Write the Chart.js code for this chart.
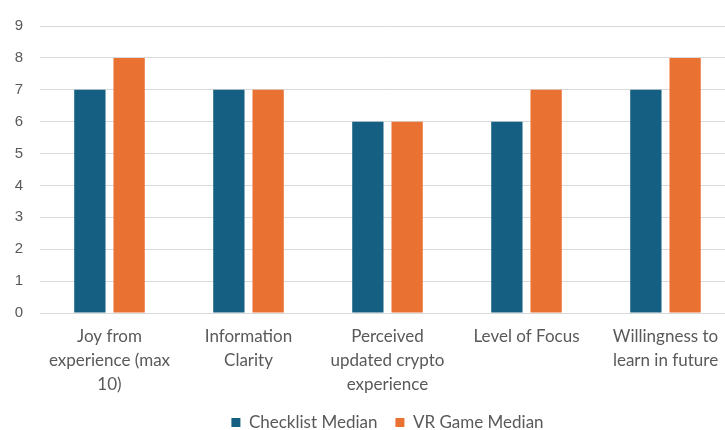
<!DOCTYPE html>
<html><head><meta charset="utf-8">
<script src="https://cdn.jsdelivr.net/npm/chart.js"></script>
<style>html,body{margin:0;padding:0;overflow:hidden;background:#fff}
#wrap{position:relative;width:735px;height:430px}</style></head>
<body><div id="wrap"><canvas id="c" width="735" height="430"></canvas></div>
<script>
const categories = [
  ["Joy from", "experience (max", "10)"],
  ["Information", "Clarity"],
  ["Perceived", "updated crypto", "experience"],
  ["Level of Focus"],
  ["Willingness to", "learn in future"]
];
const checklistMedian = [7, 7, 6, 6, 7];
const vrGameMedian = [8, 7, 6, 7, 8];
const yMin = 0, yMax = 9, yStep = 1;

const textColor = '#595959';
new Chart(document.getElementById('c'), {
  type: 'bar',
  data: {
    labels: categories,
    datasets: [
      { label: 'Checklist Median', data: checklistMedian, backgroundColor: '#156082', borderWidth: 0,
        categoryPercentage: 0.565, barPercentage: 0.797 },
      { label: 'VR Game Median', data: vrGameMedian, backgroundColor: '#E97132', borderWidth: 0,
        categoryPercentage: 0.565, barPercentage: 0.797 }
    ]
  },
  options: {
    responsive: false,
    animation: false,
    layout: { padding: { top: 25, bottom: -11, left: 0, right: 0 } },
    plugins: {
      legend: {
        position: 'bottom',
        fullSize: false,
        labels: { boxWidth: 9, boxHeight: 9, padding: 18, color: textColor,
          font: { family: 'Lato', size: 17 } }
      },
      tooltip: { enabled: false }
    },
    scales: {
      x: {
        grid: { display: false, drawTicks: false },
        border: { display: false },
        ticks: { color: textColor, padding: 12, maxRotation: 0, autoSkip: false,
          font: { family: 'Lato', size: 17, lineHeight: 1.41 } },
        afterFit: s => { s.height = 83; }
      },
      y: {
        min: yMin, max: yMax,
        grid: { color: '#d9d9d9', lineWidth: 1, drawTicks: false },
        border: { display: false },
        ticks: { stepSize: yStep, color: textColor, padding: 17,
          font: { family: 'Liberation Sans', size: 15 } },
        afterFit: s => { s.width = 40; }
      }
    }
  }
});
</script></body></html>
